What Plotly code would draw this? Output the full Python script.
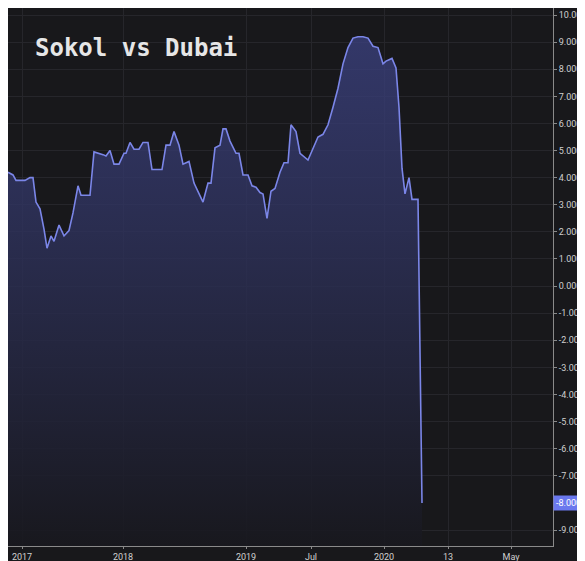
import plotly.graph_objects as go

# bar index (TradingView spaces bars evenly) and spread value
bars = [0, 5, 8, 17, 22, 25, 28, 32, 36, 39, 43, 46, 51, 56, 61, 65, 70, 73, 82, 86,
        95, 98, 102, 106, 111, 116, 118, 122, 126, 131, 135, 140, 144, 154, 158, 162,
        166, 171, 175, 181, 186, 195, 200, 203, 207, 212, 215, 218, 222, 228, 231, 235,
        240, 244, 248, 252, 255, 259, 263, 267, 272, 276, 280, 283, 288, 292, 300, 305,
        310, 315, 320, 325, 330, 335, 340, 345, 350, 355, 360, 365, 370, 375, 378, 384,
        388, 391, 394, 397, 401, 404, 410, 414]
spread = [4.2, 4.1, 3.9, 3.9, 4.0, 4.0, 3.1, 2.85, 2.1, 1.4, 1.85, 1.65, 2.25, 1.85,
          2.05, 2.7, 3.7, 3.35, 3.35, 4.95, 4.85, 4.8, 5.0, 4.5, 4.5, 4.9, 4.9, 5.3,
          5.05, 5.05, 5.3, 5.3, 4.3, 4.3, 5.2, 5.2, 5.7, 5.2, 4.5, 4.6, 3.8, 3.1, 3.8,
          3.8, 5.1, 5.2, 5.8, 5.8, 5.35, 4.9, 4.9, 4.1, 4.1, 3.7, 3.65, 3.45, 3.4, 2.5,
          3.5, 3.6, 4.2, 4.55, 4.55, 5.95, 5.7, 4.9, 4.65, 5.1, 5.5, 5.6, 5.95, 6.6,
          7.3, 8.2, 8.8, 9.15, 9.2, 9.2, 9.15, 8.85, 8.8, 8.2, 8.3, 8.4, 8.05, 6.6,
          4.35, 3.4, 4.0, 3.2, 3.2, -8.0]
tick_pos = [14, 115, 238, 303, 376, 440, 503]
tick_lab = ["2017", "2018", "2019", "Jul", "2020", "13", "May"]
y_ticks = [v for v in range(-9, 11) if v != -8]

fig = go.Figure()
fig.add_trace(go.Scatter(x=bars, y=[-9.6] * len(bars), mode="lines",
                         line=dict(width=0), hoverinfo="skip", showlegend=False))
fig.add_trace(go.Scatter(x=bars, y=spread, mode="lines", fill="tonexty",
                         line=dict(color="#7b86e8", width=1.6),
                         fillgradient=dict(type="vertical",
                                           colorscale=[[0, "rgba(24,24,30,0.9)"],
                                                       [1, "rgba(60,66,130,0.75)"]]),
                         showlegend=False))

fig.update_layout(
    width=585, height=561, paper_bgcolor="#18181b", plot_bgcolor="#18181b",
    margin=dict(l=0, r=40, t=0, b=23),
    font=dict(family="Roboto", color="#d0d0d0", size=9),
    xaxis=dict(range=[0, 545], tickvals=tick_pos, ticktext=tick_lab,
               showgrid=True, gridcolor="#26262b", zeroline=False,
               showline=True, linecolor="#8a8a8a", ticks="outside",
               ticklen=2, tickcolor="#8a8a8a", automargin=False),
    yaxis=dict(range=[-9.59, 10.26], side="right", tickvals=y_ticks,
               ticktext=[f"{v:.4f}" for v in y_ticks],
               showgrid=True, gridcolor="#26262b", zeroline=False,
               showline=True, linecolor="#8a8a8a", ticks="outside",
               ticklen=3, tickcolor="#8a8a8a", automargin=False),
    annotations=[
        dict(text="<b>Sokol vs Dubai</b>", x=0.045, y=0.955, xref="paper", yref="paper",
             xanchor="left", yanchor="top", showarrow=False,
             font=dict(family="DejaVu Sans Mono", size=24, color="#e6e6e6")),
        dict(text="-8.0000", x=1, y=spread[-1], xref="paper", yref="y",
             xanchor="left", yanchor="middle", showarrow=False, xshift=0,
             bgcolor="#6a78ee", font=dict(color="white", size=9), borderpad=2),
    ],
)

fig.write_html("out.html")
